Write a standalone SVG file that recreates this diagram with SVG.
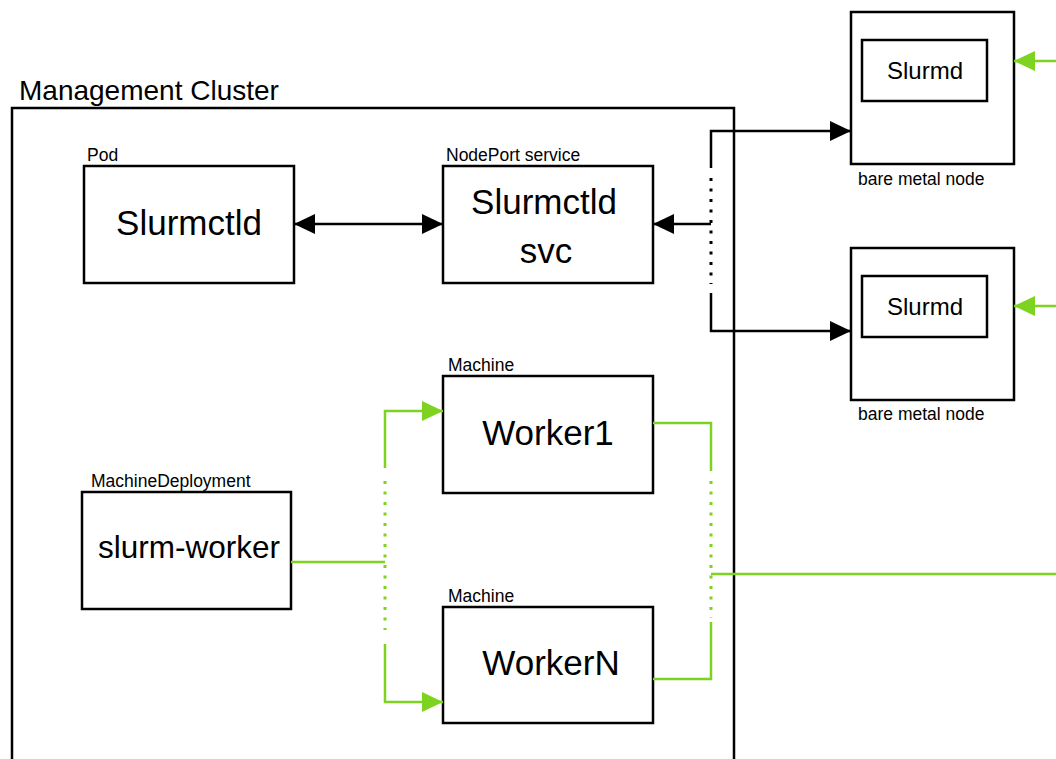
<svg xmlns="http://www.w3.org/2000/svg" width="1056" height="759" viewBox="0 0 1056 759">
  <defs>
    <marker id="ahB" viewBox="0 0 20 20" refX="20" refY="10" markerWidth="21" markerHeight="21" markerUnits="userSpaceOnUse" orient="auto-start-reverse">
      <path d="M0,0.5 L20,10 L0,19.5 Z" fill="#000"/>
    </marker>
    <marker id="ahG" viewBox="0 0 20 20" refX="20" refY="10" markerWidth="21" markerHeight="21" markerUnits="userSpaceOnUse" orient="auto">
      <path d="M0,0.5 L20,10 L0,19.5 Z" fill="#7ed321"/>
    </marker>
  </defs>
  <style>
    text { font-family: "Liberation Sans", Arial, sans-serif; fill: #000; }
    .box { fill: #fff; stroke: #000; stroke-width: 2.5; }
    .big { font-size: 35px; text-anchor: middle; }
    .lbl { font-size: 17.5px; }
    .blk { fill: none; stroke: #000; stroke-width: 2.5; }
    .grn { fill: none; stroke: #7ed321; stroke-width: 2.5; }
    .dotB { fill: none; stroke: #000; stroke-width: 3; stroke-dasharray: 3 7.5; }
    .dotG { fill: none; stroke: #7ed321; stroke-width: 3; stroke-dasharray: 3 7.5; }
  </style>
  <rect width="1056" height="759" fill="#fff"/>

  <g id="management-cluster">
    <text x="19" y="100" font-size="28">Management Cluster</text>
    <path class="blk" d="M12,762 V108 H734 V762"/>
  </g>

  <g id="pod">
    <text class="lbl" x="87" y="161">Pod</text>
    <rect class="box" x="84" y="166" width="210" height="117"/>
    <text class="big" x="189" y="235">Slurmctld</text>
  </g>

  <g id="nodeport-svc">
    <text class="lbl" x="446" y="161">NodePort service</text>
    <rect class="box" x="443" y="166" width="210" height="117"/>
    <text class="big" x="544" y="214">Slurmctld</text>
    <text class="big" x="546" y="263">svc</text>
  </g>

  <g id="worker1">
    <text class="lbl" x="448" y="371">Machine</text>
    <rect class="box" x="443" y="376" width="210" height="117"/>
    <text class="big" x="548" y="445">Worker1</text>
  </g>

  <g id="workerN">
    <text class="lbl" x="448" y="602">Machine</text>
    <rect class="box" x="443" y="607" width="210" height="116"/>
    <text class="big" x="551" y="675">WorkerN</text>
  </g>

  <g id="slurm-worker">
    <text class="lbl" x="91" y="487">MachineDeployment</text>
    <rect class="box" x="82" y="492" width="209" height="117"/>
    <text x="189" y="558" font-size="31.5" text-anchor="middle">slurm-worker</text>
  </g>

  <g id="bare-metal-1">
    <rect class="box" x="851" y="12" width="163" height="152"/>
    <rect class="box" x="862" y="40" width="125" height="61"/>
    <text x="925" y="79" font-size="24" text-anchor="middle">Slurmd</text>
    <text class="lbl" x="858" y="185">bare metal node</text>
  </g>

  <g id="bare-metal-2">
    <rect class="box" x="851" y="248" width="163" height="152"/>
    <rect class="box" x="862" y="276" width="125" height="61"/>
    <text x="925" y="315" font-size="24" text-anchor="middle">Slurmd</text>
    <text class="lbl" x="858" y="420">bare metal node</text>
  </g>

  <g id="connectors">
    <!-- Slurmctld <-> service -->
    <path class="blk" d="M294,224 H443" marker-start="url(#ahB)" marker-end="url(#ahB)"/>
    <!-- bare metal nodes -> service -->
    <path class="blk" d="M711,224 H653" marker-end="url(#ahB)"/>
    <path class="blk" d="M711,168 V131 H851" marker-end="url(#ahB)"/>
    <path class="dotB" d="M711,178 V284"/>
    <path class="blk" d="M711,293 V331 H851" marker-end="url(#ahB)"/>

    <!-- MachineDeployment -> machines -->
    <path class="grn" d="M291,562 H385"/>
    <path class="grn" d="M385,468 V411 H443" marker-end="url(#ahG)"/>
    <path class="dotG" d="M385,481 V630"/>
    <path class="grn" d="M385,644 V702 H443" marker-end="url(#ahG)"/>

    <!-- machines -> bare metal nodes -->
    <path class="grn" d="M653,423 H711 V471"/>
    <path class="dotG" d="M711,481 V618"/>
    <path class="grn" d="M711,622 V679 H653"/>
    <path class="grn" d="M711,574 H1056"/>
    <path class="grn" d="M1056,61 H1014" marker-end="url(#ahG)"/>
    <path class="grn" d="M1056,306 H1014" marker-end="url(#ahG)"/>
  </g>
</svg>
